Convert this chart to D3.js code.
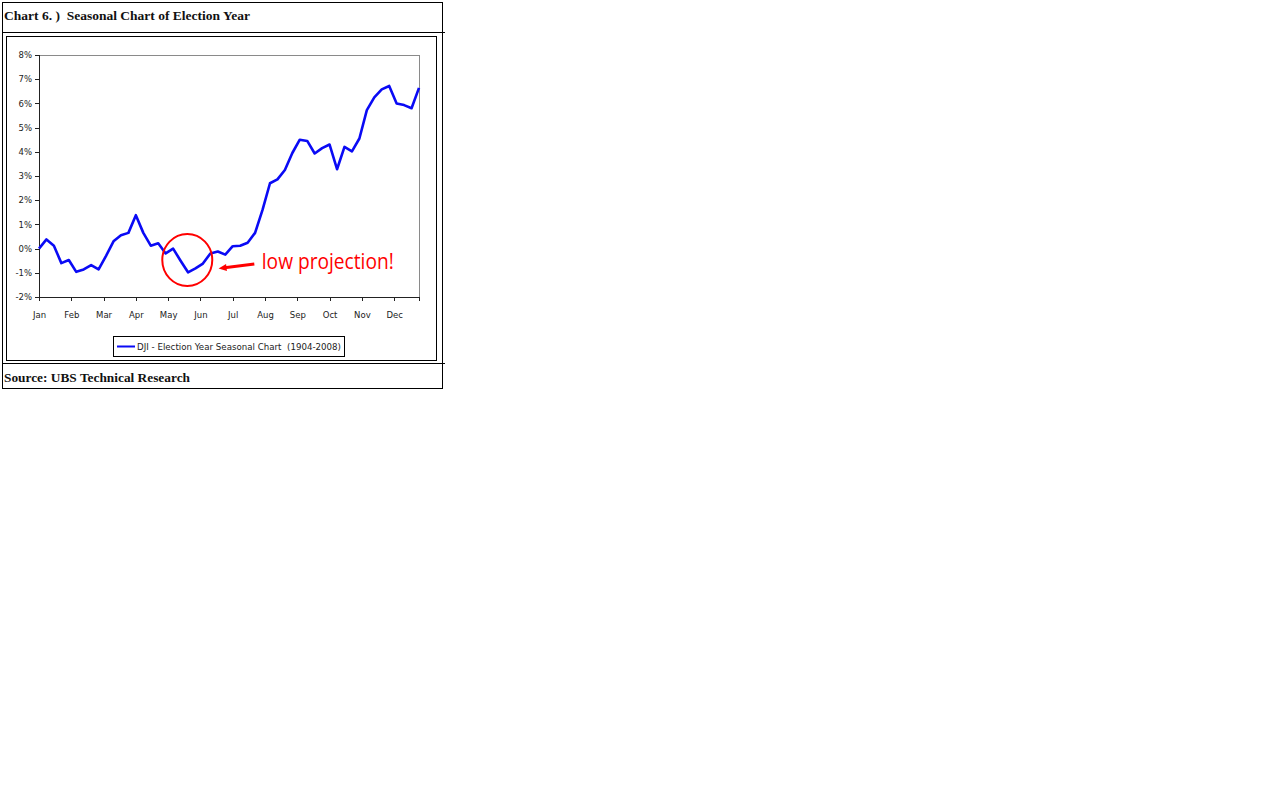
<!DOCTYPE html>
<html>
<head>
<meta charset="utf-8">
<script src="https://cdn.jsdelivr.net/npm/d3@7"></script>
<style>
  body { margin: 0; background: #fff; }
  svg { display: block; }
  svg text { white-space: pre; }
  .axis text { font: 8.5px "DejaVu Sans", sans-serif; fill: #222; }
  .axis path, .axis line { stroke: #222; shape-rendering: crispEdges; }
</style>
</head>
<body>
<div id="chart"></div>
<script>
// weekly seasonal path, % change from start of year
var weeks = d3.range(52);
var values = [0.0, 0.38, 0.12, -0.6, -0.47, -0.96, -0.86, -0.68, -0.86, -0.3,
    0.3, 0.55, 0.65, 1.38, 0.65, 0.12, 0.22, -0.2, 0.0, -0.5,
    -0.98, -0.82, -0.62, -0.2, -0.12, -0.25, 0.1, 0.12, 0.24, 0.65,
    1.6, 2.7, 2.86, 3.25, 3.95, 4.5, 4.45, 3.93, 4.15, 4.3,
    3.28, 4.2, 4.02, 4.55, 5.72, 6.25, 6.58, 6.72, 6.0, 5.93,
    5.8, 6.64];
var months = ["Jan", "Feb", "Mar", "Apr", "May", "Jun", "Jul", "Aug", "Sep", "Oct", "Nov", "Dec"];
var yTicks = [-2, -1, 0, 1, 2, 3, 4, 5, 6, 7, 8];
var title = "Chart 6. )  Seasonal Chart of Election Year";
var source = "Source: UBS Technical Research";
var seriesName = "DJI - Election Year Seasonal Chart  (1904-2008)";
var note = "low projection!";

var svg = d3.select("#chart").append("svg")
    .attr("width", 1267)
    .attr("height", 798);

// table frame
var frame = svg.append("g").attr("fill", "none").attr("stroke", "#000")
    .attr("shape-rendering", "crispEdges");
frame.append("rect").attr("x", 2.5).attr("y", 2.5).attr("width", 440).attr("height", 386);
frame.append("line").attr("x1", 2).attr("x2", 445).attr("y1", 32.5).attr("y2", 32.5);
frame.append("line").attr("x1", 2).attr("x2", 445).attr("y1", 363.5).attr("y2", 363.5);
frame.append("rect").attr("x", 6.5).attr("y", 36.5).attr("width", 430).attr("height", 324);

svg.append("text")
    .attr("x", 4).attr("y", 20)
    .attr("textLength", 246)
    .attr("lengthAdjust", "spacingAndGlyphs")
    .style("font", "bold 13px 'Liberation Serif', serif")
    .attr("fill", "#111")
    .text(title);

svg.append("text")
    .attr("x", 4).attr("y", 382)
    .attr("textLength", 186)
    .attr("lengthAdjust", "spacingAndGlyphs")
    .style("font", "bold 13px 'Liberation Serif', serif")
    .attr("fill", "#111")
    .text(source);

var margin = { left: 39, top: 55 },
    width = 380,
    height = 242;

var x = d3.scaleLinear().domain([0, 51]).range([0, width]),
    y = d3.scaleLinear().domain([-2, 8]).range([height, 0]);

var g = svg.append("g")
    .attr("transform", "translate(" + margin.left + "," + margin.top + ")");

// grey top and right edges of the plot area
g.append("path")
    .attr("d", "M0.5,0.5H" + (width + 0.5) + "V" + height)
    .attr("fill", "none")
    .attr("stroke", "#8a8a8a")
    .attr("shape-rendering", "crispEdges");

g.append("g")
    .attr("class", "axis")
    .attr("transform", "translate(0," + height + ")")
    .call(d3.axisBottom(x)
        .tickValues(months.map(function (m, i) { return i * 52 / 12; }))
        .tickFormat(function (d, i) { return months[i]; })
        .tickSizeOuter(0)
        .tickSize(4)
        .tickPadding(11));

g.append("g")
    .attr("class", "axis")
    .call(d3.axisLeft(y)
        .tickValues(yTicks)
        .tickFormat(function (d) { return d + "%"; })
        .tickSizeOuter(0)
        .tickSize(4)
        .tickPadding(3));

var line = d3.line()
    .x(function (d, i) { return x(weeks[i]); })
    .y(function (d) { return y(d); });

g.append("path")
    .datum(values)
    .attr("fill", "none")
    .attr("stroke", "#0a0af5")
    .attr("stroke-width", 2.6)
    .attr("stroke-linejoin", "round")
    .attr("d", line);

// annotation (positions in data units)
var ring = { week: 19.9, value: -0.47, r: 25 };
var arrow = { from: [28.9, -0.64], to: [24.1, -0.82] };
var label = { week: 29.9, value: -0.85 };

g.append("ellipse")
    .attr("cx", x(ring.week)).attr("cy", y(ring.value))
    .attr("rx", ring.r).attr("ry", ring.r + 1)
    .attr("fill", "none")
    .attr("stroke", "#f00")
    .attr("stroke-width", 2);

var ax0 = x(arrow.from[0]), ay0 = y(arrow.from[1]),
    ax1 = x(arrow.to[0]), ay1 = y(arrow.to[1]);
var ang = Math.atan2(ay1 - ay0, ax1 - ax0);
g.append("line")
    .attr("x1", ax0).attr("y1", ay0)
    .attr("x2", ax1 - 6 * Math.cos(ang)).attr("y2", ay1 - 6 * Math.sin(ang))
    .attr("stroke", "#f00")
    .attr("stroke-width", 3);
g.append("path")
    .attr("d", d3.line()([
        [ax1, ay1],
        [ax1 - 8 * Math.cos(ang) - 3.5 * Math.sin(ang), ay1 - 8 * Math.sin(ang) + 3.5 * Math.cos(ang)],
        [ax1 - 8 * Math.cos(ang) + 3.5 * Math.sin(ang), ay1 - 8 * Math.sin(ang) - 3.5 * Math.cos(ang)]
    ]) + "Z")
    .attr("fill", "#f00");

g.append("text")
    .attr("x", x(label.week)).attr("y", y(label.value))
    .attr("textLength", 132)
    .attr("lengthAdjust", "spacingAndGlyphs")
    .style("font", "22px 'Open Sans', sans-serif")
    .attr("fill", "#f00")
    .text(note);

// legend
var leg = svg.append("g").attr("transform", "translate(113,336)");
leg.append("rect")
    .attr("x", 0.5).attr("y", 0.5).attr("width", 231).attr("height", 20)
    .attr("fill", "#fff").attr("stroke", "#000")
    .attr("shape-rendering", "crispEdges");
leg.append("line")
    .attr("x1", 4).attr("x2", 22).attr("y1", 10.5).attr("y2", 10.5)
    .attr("stroke", "#0a0af5").attr("stroke-width", 2);
leg.append("text")
    .attr("x", 24).attr("y", 14)
    .attr("textLength", 204)
    .attr("lengthAdjust", "spacingAndGlyphs")
    .style("font", "9px 'DejaVu Sans', sans-serif")
    .attr("fill", "#222")
    .text(seriesName);
</script>
</body>
</html>
